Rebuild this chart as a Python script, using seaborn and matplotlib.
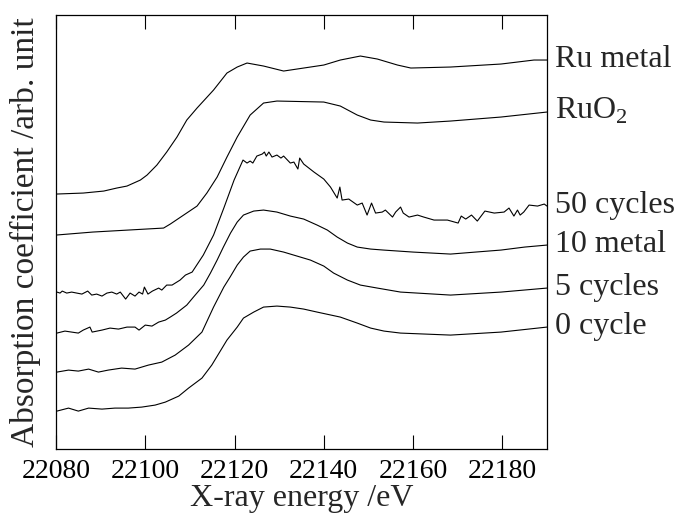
import matplotlib
matplotlib.use("Agg")
import matplotlib.pyplot as plt
import numpy as np
import pandas as pd
import seaborn as sns

# values (energy in eV, absorption in arb. units, stacked)
ru_metal_e = [22080, 22086.1, 22090.7, 22093.6, 22095.9, 22097.4, 22098.9, 22100.4, 22102.6,
              22104.8, 22107.1, 22109.3, 22111.6, 22115.3, 22118.3, 22120.6, 22122.8, 22126.5,
              22131.0, 22135.5, 22140.0, 22143.7, 22148.2, 22152.0, 22156.5, 22159.5, 22168.4,
              22179.7, 22187.1, 22190]
ru_metal_y = [2.55, 2.56, 2.58, 2.61, 2.63, 2.66, 2.69, 2.74, 2.84,
              2.97, 3.12, 3.29, 3.41, 3.59, 3.76, 3.82, 3.86, 3.83,
              3.78, 3.81, 3.84, 3.89, 3.93, 3.90, 3.84, 3.81, 3.82,
              3.85, 3.89, 3.89]

ruo2_e = [22080, 22088.2, 22104.1, 22105.6, 22108.6, 22111.6, 22113.8, 22116.1, 22118.3,
          22120.6, 22123.5, 22126.5, 22129.5, 22140.0, 22143.7, 22147.5, 22150.5, 22153.5,
          22161.0, 22168.4, 22179.7, 22190]
ruo2_y = [2.14, 2.17, 2.21, 2.25, 2.34, 2.43, 2.56, 2.72, 2.92,
          3.12, 3.34, 3.46, 3.48, 3.47, 3.43, 3.34, 3.29, 3.27,
          3.26, 3.28, 3.32, 3.37]

cyc50_e = [22080.2, 22080.9, 22081.4, 22082.4, 22083.5, 22085.8, 22087.1, 22088.0, 22089.1,
           22090.3, 22091.4, 22092.5, 22093.6, 22094.4, 22095.6, 22096.6, 22097.7, 22098.6,
           22099.4, 22099.8, 22100.6, 22101.6, 22103.0, 22103.7, 22104.8, 22106.0, 22107.8,
           22109.0, 22110.5, 22113.0, 22115.3, 22117.6, 22119.9, 22121.9, 22122.8, 22123.5,
           22124.1, 22125.0, 22126.2, 22126.7, 22127.1, 22127.7, 22128.4, 22129.5, 22130.4,
           22131.0, 22132.5, 22133.3, 22134.2, 22134.6, 22135.5, 22137.8, 22140.0, 22141.5,
           22143.0, 22143.6, 22144.1, 22145.6, 22147.5, 22148.6, 22149.7, 22150.7, 22151.6,
           22153.1, 22153.8, 22155.4, 22156.1, 22157.2, 22157.8, 22159.1, 22161.0, 22162.4,
           22164.7, 22167.7, 22170.1, 22170.8, 22171.8, 22173.1, 22174.4, 22176.1, 22178.2,
           22180.4, 22181.5, 22182.6, 22183.4, 22184.0, 22184.8, 22186.0, 22187.9, 22189.4,
           22190]
cyc50_y = [1.57, 1.56, 1.58, 1.56, 1.57, 1.55, 1.58, 1.54, 1.55,
           1.53, 1.56, 1.57, 1.55, 1.57, 1.50, 1.56, 1.53, 1.57,
           1.55, 1.62, 1.55, 1.58, 1.61, 1.59, 1.64, 1.64, 1.69,
           1.74, 1.77, 1.94, 2.14, 2.41, 2.69, 2.89, 2.86, 2.88,
           2.86, 2.93, 2.95, 2.97, 2.93, 2.97, 2.92, 2.94, 2.91,
           2.93, 2.86, 2.87, 2.80, 2.91, 2.85, 2.77, 2.70, 2.62,
           2.51, 2.62, 2.49, 2.50, 2.44, 2.46, 2.34, 2.46, 2.36,
           2.37, 2.39, 2.32, 2.37, 2.42, 2.36, 2.32, 2.34, 2.32,
           2.29, 2.29, 2.26, 2.33, 2.30, 2.34, 2.28, 2.38, 2.36,
           2.37, 2.41, 2.33, 2.39, 2.34, 2.37, 2.44, 2.43, 2.45,
           2.43]

met10_e = [22080.2, 22082.0, 22083.5, 22085.0, 22086.1, 22087.6, 22088.1, 22090.3, 22092.1,
           22094.0, 22095.9, 22097.7, 22098.6, 22100.0, 22101.5, 22103.0, 22104.5, 22105.6,
           22107.0, 22109.3, 22110.8, 22113.1, 22114.6, 22116.1, 22117.5, 22119.1, 22120.6,
           22122.0, 22124.3, 22126.5, 22129.5, 22132.5, 22135.5, 22138.5, 22140.8, 22143.0,
           22145.3, 22147.5, 22150.5, 22153.4, 22160.0, 22168.4, 22174.0, 22179.7, 22185.0,
           22190]
met10_y = [1.16, 1.18, 1.17, 1.16, 1.19, 1.22, 1.17, 1.19, 1.21,
           1.20, 1.22, 1.22, 1.19, 1.24, 1.23, 1.27, 1.29, 1.32,
           1.36, 1.44, 1.52, 1.64, 1.76, 1.89, 2.02, 2.16, 2.27,
           2.34, 2.38, 2.39, 2.37, 2.33, 2.30, 2.24, 2.19, 2.12,
           2.06, 2.02, 2.00, 1.99, 1.97, 1.95, 1.97, 1.99, 2.02,
           2.04]

cyc5_e = [22080.2, 22082.8, 22085.0, 22087.3, 22089.5, 22091.7, 22094.7, 22097.7, 22100.7,
          22103.7, 22106.7, 22109.7, 22112.7, 22115.3, 22117.6, 22119.0, 22120.6, 22122.0,
          22123.5, 22125.8, 22128.0, 22131.0, 22134.0, 22137.0, 22140.0, 22142.2, 22145.3,
          22148.2, 22152.0, 22157.2, 22168.4, 22179.7, 22190]
cyc5_y = [0.77, 0.79, 0.78, 0.80, 0.77, 0.79, 0.81, 0.80, 0.84,
          0.87, 0.94, 1.04, 1.17, 1.42, 1.62, 1.72, 1.84, 1.92,
          1.98, 2.00, 2.00, 1.97, 1.93, 1.89, 1.83, 1.76, 1.69,
          1.64, 1.61, 1.57, 1.54, 1.57, 1.61]

cyc0_e = [22080.2, 22082.8, 22085.0, 22087.3, 22090.3, 22093.2, 22096.2, 22099.2, 22102.2,
          22104.5, 22107.5, 22109.7, 22112.7, 22114.9, 22118.3, 22120.6, 22122.0, 22124.3,
          22126.5, 22129.5, 22132.5, 22135.5, 22138.5, 22143.7, 22147.5, 22150.5, 22153.5,
          22157.2, 22168.4, 22179.7, 22190]
cyc0_y = [0.38, 0.41, 0.38, 0.41, 0.40, 0.41, 0.41, 0.42, 0.44,
          0.47, 0.53, 0.61, 0.71, 0.84, 1.09, 1.22, 1.31, 1.37,
          1.42, 1.43, 1.42, 1.40, 1.37, 1.32, 1.26, 1.21, 1.18,
          1.16, 1.14, 1.17, 1.22]

labels = ["Ru metal", "RuO$_2$", "50 cycles", "10 metal", "5 cycles", "0 cycle"]
energies = [ru_metal_e, ruo2_e, cyc50_e, met10_e, cyc5_e, cyc0_e]
values = [ru_metal_y, ruo2_y, cyc50_y, met10_y, cyc5_y, cyc0_y]

frames = []
for lab, e, y in zip(labels, energies, values):
    frames.append(pd.DataFrame({"energy": e, "absorption": y, "sample": lab}))
df = pd.concat(frames, ignore_index=True)

sns.set_style("ticks")
plt.rcParams['font.family'] = ['Liberation Serif', 'DejaVu Serif']
plt.rcParams['mathtext.fontset'] = 'custom'
plt.rcParams['mathtext.rm'] = 'Liberation Serif'

fig = plt.figure(figsize=(6.79, 5.18), dpi=100)
ax = fig.add_axes([0.0825, 0.133, 0.723, 0.838])

sns.lineplot(data=df, x="energy", y="absorption", hue="sample", hue_order=labels,
             palette=["black"] * len(labels), estimator=None, sort=False,
             linewidth=0.8, legend=False, ax=ax)

for lab, e, y in zip(labels, energies, values):
    ax.annotate(lab, xy=(e[-1], y[-1]), xytext=(6, -5), textcoords="offset points",
                ha="left", va="baseline", fontsize=23, annotation_clip=False)

ax.set_xlim(22080, 22190)
ax.set_ylim(0, 4.34)
ax.set_xticks([22080, 22100, 22120, 22140, 22160, 22180])
ax.set_yticks([])
ax.tick_params(axis="x", direction="in", length=10, width=0.8, top=True,
               labelsize=20, pad=7, colors="black")
for sp in ax.spines.values():
    sp.set_visible(True)
    sp.set_linewidth(0.9)
    sp.set_color("black")

ax.set_xlabel("X-ray energy /eV", fontsize=23, labelpad=0)
ax.set_ylabel("Absorption coefficient /arb. unit", fontsize=24, labelpad=11)

fig.savefig("out.png", dpi=100)
